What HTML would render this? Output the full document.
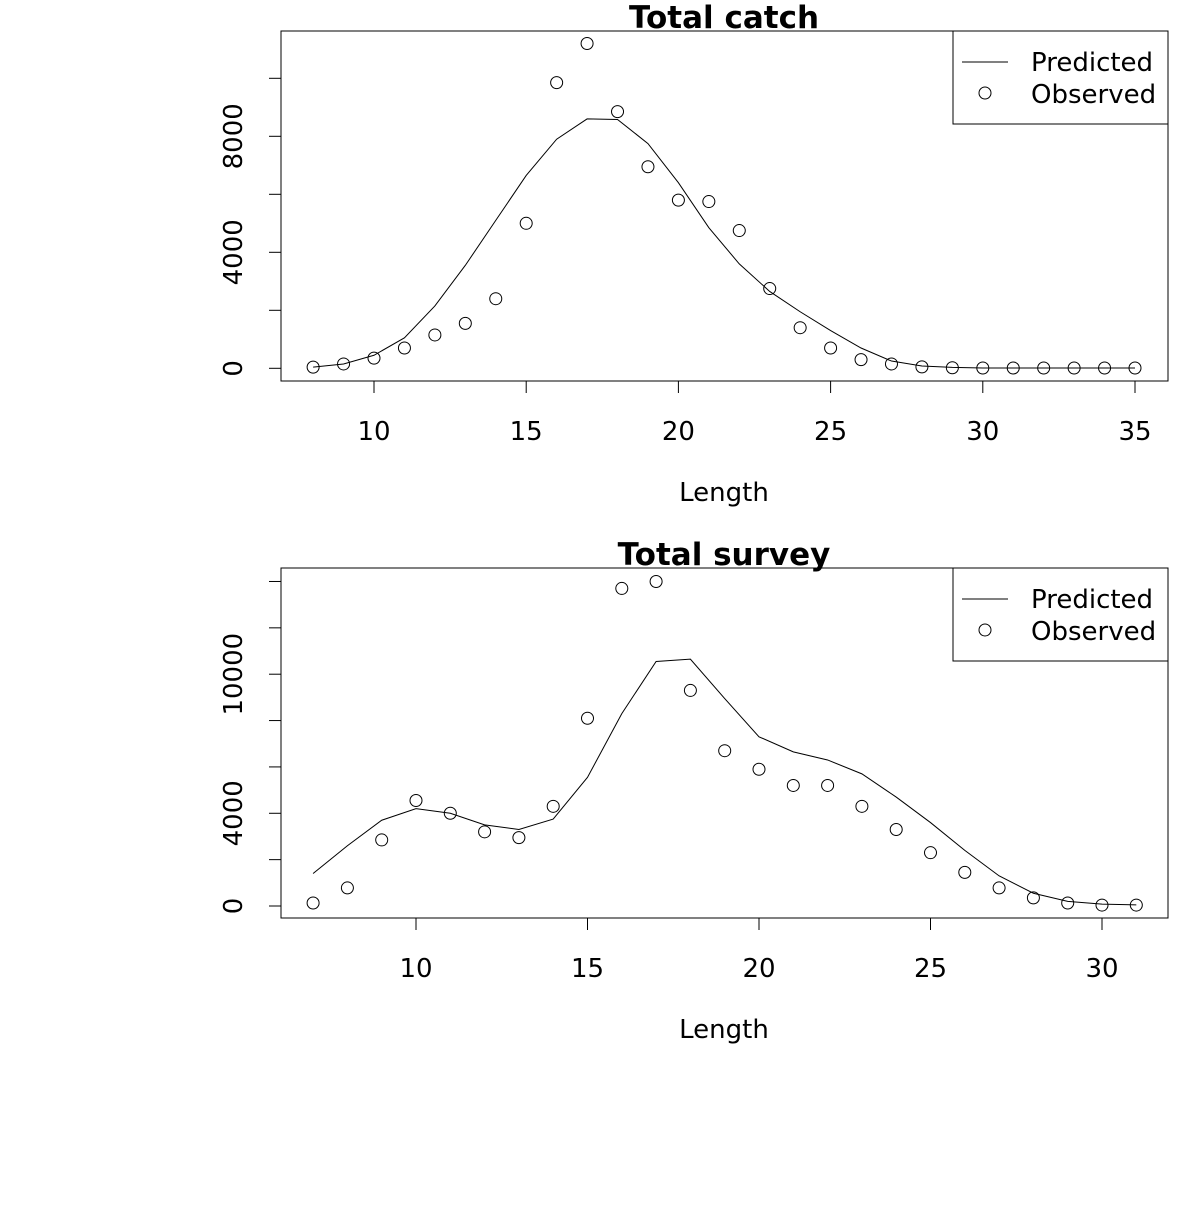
<!DOCTYPE html>
<html><head><meta charset="utf-8"><style>
body{margin:0;background:#fff}
svg{font-family:"DejaVu Sans","Liberation Sans",sans-serif}
</style></head><body>
<svg id="c" width="1200" height="1200" viewBox="0 0 1200 1200"></svg>
<script>
const catchLen=[8,9,10,11,12,13,14,15,16,17,18,19,20,21,22,23,24,25,26,27,28,29,30,31,32,33,34,35];
const catchObs=[40,150,350,700,1150,1550,2400,5000,9850,11200,8850,6950,5800,5750,4750,2750,1400,700,300,150,50,20,10,10,10,10,10,10];
const catchPred=[40,150,450,1050,2150,3550,5100,6650,7900,8600,8580,7750,6400,4850,3600,2650,1950,1300,700,250,80,30,10,10,10,10,10,10];
const catchXTicks=[10,15,20,25,30,35];
const catchYTicks=[0,2000,4000,6000,8000,10000];
const catchYLabels=["0","","4000","","8000",""];
const survLen=[7,8,9,10,11,12,13,14,15,16,17,18,19,20,21,22,23,24,25,26,27,28,29,30,31];
const survObs=[130,780,2850,4550,4000,3200,2950,4300,8100,13700,14000,9300,6700,5900,5200,5200,4300,3300,2300,1450,780,350,130,40,40];
const survPred=[1400,2600,3700,4200,4000,3500,3300,3750,5550,8300,10550,10650,8950,7300,6650,6300,5700,4700,3600,2400,1300,550,200,80,50];
const survXTicks=[10,15,20,25,30];
const survYTicks=[0,2000,4000,6000,8000,10000,12000,14000];
const survYLabels=["0","","4000","","","10000","",""];
const svg=document.getElementById('c');const NS='http://www.w3.org/2000/svg';
function mk(t,a,p){const e=document.createElementNS(NS,t);for(const k in a)e.setAttribute(k,a[k]);(p||svg).appendChild(e);return e;}
function panel(o){
 const g=mk('g',{});
 
 
 const X=v=>o.x0+(v-o.xa)*o.xs, Y=v=>o.y0-v*o.ys;
 const box=mk('rect',{x:281,y:o.top,width:887,height:350,fill:'none',stroke:'#000','stroke-width':1},g);
 
 const bot=o.top+350;
 const xa=mk('g',{},g);
 mk('line',{x1:X(o.xt[0]),x2:X(o.xt[o.xt.length-1]),y1:bot,y2:bot,stroke:'#000'},xa);
 o.xt.forEach(v=>{mk('line',{x1:X(v),x2:X(v),y1:bot,y2:bot+12,stroke:'#000'},xa);
  const t=mk('text',{x:X(v),y:bot+59,'font-size':26,'text-anchor':'middle'},xa);t.textContent=v;
  });
 const ya=mk('g',{},g);
 mk('line',{x1:281,x2:281,y1:Y(o.yt[0]),y2:Y(o.yt[o.yt.length-1]),stroke:'#000'},ya);
 o.yt.forEach((v,i)=>{mk('line',{x1:269,x2:281,y1:Y(v),y2:Y(v),stroke:'#000'},ya);
  if(o.yl[i]){const t=mk('text',{x:0,y:0,'font-size':26,'text-anchor':'middle',transform:`translate(242,${Y(v)}) rotate(-90)`},ya);t.textContent=o.yl[i];
  }});
 const tl=mk('text',{x:724,y:o.top-3,'font-size':31,'font-weight':'bold','text-anchor':'middle'},g);tl.textContent=o.title;
 
 const xl=mk('text',{x:724,y:bot+120,'font-size':26,'text-anchor':'middle'},g);xl.textContent='Length';
 
 const pl=mk('polyline',{points:o.len.map((l,i)=>X(l)+','+Y(o.pred[i])).join(' '),fill:'none',stroke:'#000','stroke-width':1},g);
 
 o.len.forEach((l,i)=>{const c=mk('circle',{cx:X(l),cy:Y(o.obs[i]),r:6,fill:'none',stroke:'#000','stroke-width':1},g);
  });
 const lg=mk('g',{},g);
 mk('rect',{x:953,y:o.top,width:215,height:93,fill:'#fff',stroke:'#000'},lg);
 mk('line',{x1:962,x2:1008,y1:o.top+31,y2:o.top+31,stroke:'#000'},lg);
 mk('circle',{cx:985,cy:o.top+62,r:6,fill:'none',stroke:'#000'},lg);
 const a=mk('text',{x:1031,y:o.top+40,'font-size':26},lg);a.textContent='Predicted';
 
 const b=mk('text',{x:1031,y:o.top+72,'font-size':26},lg);b.textContent='Observed';
 
}
panel({name:'total-catch-panel',title:'Total catch',top:31,x0:374,xa:10,xs:30.44,y0:368.3,ys:0.029,xt:catchXTicks,yt:catchYTicks,yl:catchYLabels,len:catchLen,obs:catchObs,pred:catchPred});
panel({name:'total-survey-panel',title:'Total survey',top:568,x0:416,xa:10,xs:34.3,y0:906,ys:0.02318,xt:survXTicks,yt:survYTicks,yl:survYLabels,len:survLen,obs:survObs,pred:survPred});
</script>
</body></html>
